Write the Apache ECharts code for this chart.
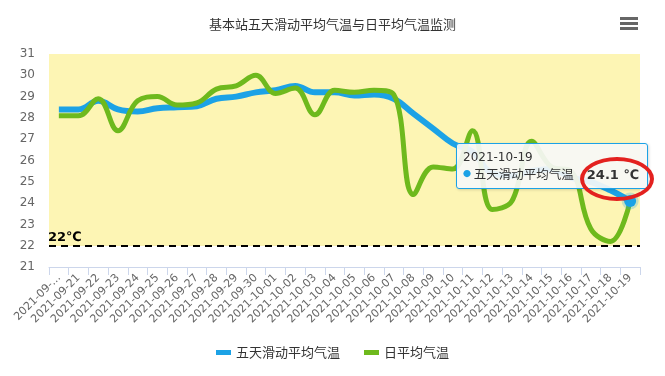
<!DOCTYPE html>
<html>
<head>
<meta charset="utf-8">
<script src="https://cdn.jsdelivr.net/npm/echarts@6/dist/echarts.min.js"></script>
<style>
  html, body { margin: 0; padding: 0; background: #fff; }
  #wrap { position: relative; width: 665px; height: 376px; }
  #chart { width: 665px; height: 376px; }
  #mark {
    position: absolute; left: 580px; top: 157px; width: 66px; height: 36px;
    border: 4px solid #e3211f; border-radius: 50%; pointer-events: none; z-index: 99999999;
  }
</style>
</head>
<body>
<div id="wrap">
  <div id="chart"></div>
  <div id="mark"></div>
</div>
<script>
  var dates = ['2021-09-20', '2021-09-21', '2021-09-22', '2021-09-23', '2021-09-24', '2021-09-25',
    '2021-09-26', '2021-09-27', '2021-09-28', '2021-09-29', '2021-09-30', '2021-10-01',
    '2021-10-02', '2021-10-03', '2021-10-04', '2021-10-05', '2021-10-06', '2021-10-07',
    '2021-10-08', '2021-10-09', '2021-10-10', '2021-10-11', '2021-10-12', '2021-10-13',
    '2021-10-14', '2021-10-15', '2021-10-16', '2021-10-17', '2021-10-18', '2021-10-19'];
  // 五天滑动平均气温
  var avg5 = [28.4, 28.4, 28.8, 28.4, 28.3, 28.45, 28.5, 28.55, 28.9, 29.0,
    29.2, 29.3, 29.5, 29.2, 29.2, 29.05, 29.1, 28.9, 28.2, 27.5,
    26.8, 26.4, 25.4, 25.3, 25.5, 25.6, 25.2, 25.0, 24.6, 24.1];
  // 日平均气温
  var daily = [28.1, 28.1, 28.9, 27.4, 28.8, 29.0, 28.6, 28.7, 29.35, 29.5,
    30.0, 29.15, 29.4, 28.15, 29.3, 29.2, 29.3, 29.1, 24.4, 25.7,
    25.6, 27.4, 23.7, 24.1, 26.9, 25.7, 25.5, 22.8, 22.2, 24.1];
  var threshold = 22;
  var yTicks = [21, 31];

  var blue = '#1ca2e6', green = '#6eb91d';

  var avgData = avg5.map(function (v, i) {
    if (i === avg5.length - 1) {
      return {
        value: v, symbol: 'circle', symbolSize: 12,
        itemStyle: { color: blue, borderColor: 'rgba(28,162,230,0.25)', borderWidth: 5 }
      };
    }
    return v;
  });

  var chart = echarts.init(document.getElementById('chart'));
  var option = {
    animation: false,
    title: {
      text: '基本站五天滑动平均气温与日平均气温监测',
      left: 'center',
      top: 13,
      textStyle: { fontSize: 13, fontWeight: 'normal', color: '#333', fontFamily: 'Noto Sans CJK SC' }
    },
    graphic: [{
      type: 'group', left: 620, top: 17,
      children: [
        { type: 'rect', shape: { x: 0, y: 0, width: 18, height: 3 }, style: { fill: '#666' } },
        { type: 'rect', shape: { x: 0, y: 5, width: 18, height: 3 }, style: { fill: '#666' } },
        { type: 'rect', shape: { x: 0, y: 10, width: 18, height: 3 }, style: { fill: '#666' } }
      ]
    }],
    legend: {
      data: ['五天滑动平均气温', '日平均气温'],
      bottom: 12,
      left: 'center',
      icon: 'rect',
      itemWidth: 15,
      itemHeight: 5,
      itemGap: 24,
      textStyle: { fontSize: 13, color: '#333', fontFamily: 'Noto Sans CJK SC' }
    },
    tooltip: {
      trigger: 'item',
      alwaysShowContent: true,
      transitionDuration: 0,
      position: [456, 143],
      backgroundColor: 'rgba(247,247,247,0.92)',
      borderColor: blue,
      borderWidth: 1,
      padding: [5, 8, 4, 6],
      extraCssText: 'border-radius:3px;box-shadow:1px 1px 3px rgba(0,0,0,0.15);',
      formatter: function (p) {
        return '<div style="font-size:12px;color:#333;line-height:16px;font-family:DejaVu Sans">' + p.name + '</div>' +
          '<div style="font-size:12.5px;color:#333;line-height:18px;font-family:Noto Sans CJK SC;white-space:nowrap">' +
          '<span style="color:' + blue + ';font-size:8px;vertical-align:2px">●</span> ' + p.seriesName +
          '<b style="font-family:DejaVu Sans;font-size:13px;margin-left:13px">' + p.value + ' ℃</b></div>';
      }
    },
    grid: { left: 49, right: 25, top: 54, bottom: 109 },
    xAxis: {
      type: 'category',
      data: dates,
      boundaryGap: true,
      axisLine: { lineStyle: { color: '#ccd6eb' } },
      axisTick: { show: true, length: 8, lineStyle: { color: '#ccd6eb' } },
      axisLabel: {
        rotate: 45,
        interval: 0,
        fontSize: 11,
        color: '#666',
        margin: 9,
        fontFamily: 'DejaVu Sans',
        formatter: function (v, i) { return i === 0 ? v.slice(0, 8) + '...' : v; }
      }
    },
    yAxis: {
      type: 'value',
      min: yTicks[0],
      max: yTicks[1],
      interval: 1,
      axisLine: { show: false },
      axisTick: { show: false },
      axisLabel: { fontSize: 12, color: '#666', margin: 14, fontFamily: 'DejaVu Sans' },
      splitLine: { lineStyle: { color: '#ebe3b8' } }
    },
    series: [{
      name: 'band',
      type: 'line',
      data: [],
      z: -1,
      silent: true,
      markArea: {
        silent: true,
        itemStyle: { color: '#fdf5b4' },
        data: [[{ yAxis: threshold }, { yAxis: yTicks[1] }]]
      }
    }, {
      name: '五天滑动平均气温',
      type: 'line',
      data: avgData,
      smooth: 0.4,
      symbol: 'none',
      showSymbol: true,
      color: blue,
      lineStyle: { width: 6, color: blue },
      emphasis: { disabled: true },
      markLine: {
        silent: true,
        symbol: 'none',
        lineStyle: { color: '#000', type: [7, 5], width: 2 },
        label: {
          position: 'insideStartTop',
          formatter: '22℃',
          color: '#000',
          fontWeight: 'bold',
          fontSize: 13,
          fontFamily: 'DejaVu Sans',
          distance: [-1, 2]
        },
        data: [{ yAxis: threshold }]
      }
    }, {
      name: '日平均气温',
      type: 'line',
      data: daily,
      smooth: 0.4,
      symbol: 'none',
      color: green,
      lineStyle: { width: 5, color: green },
      emphasis: { disabled: true }
    }]
  };
  chart.setOption(option);
  chart.dispatchAction({ type: 'showTip', seriesIndex: 1, dataIndex: dates.length - 1 });
</script>
</body>
</html>
